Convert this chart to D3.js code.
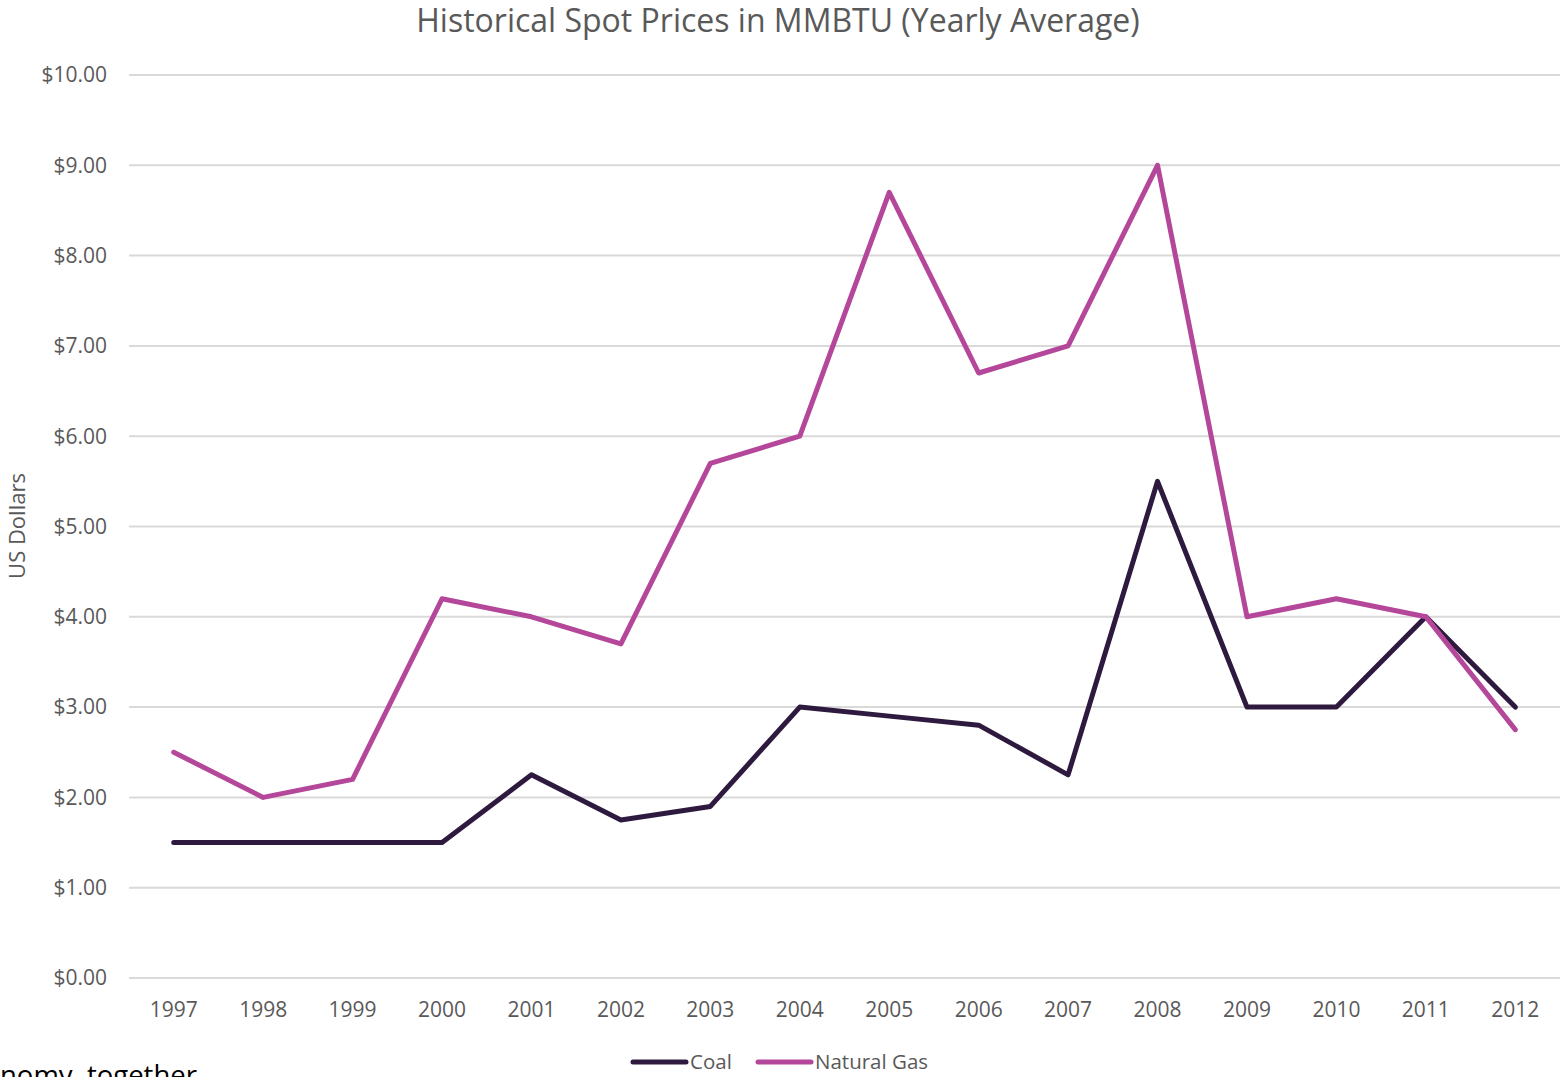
<!DOCTYPE html>
<html>
<head>
<meta charset="utf-8">
<title>Historical Spot Prices</title>
<script src="https://cdn.jsdelivr.net/npm/d3@7"></script>
<style>
    body { margin: 0; background: #fff; overflow: hidden; }
    svg { display: block; font-family: "Open Sans", Lato, sans-serif; }
    .grid line { stroke: #d9d9d9; stroke-width: 2; }
    .lbl { fill: #595959; }
</style>
</head>
<body>
<svg width="1560" height="1077"></svg>
<script>
    var years = ["1997", "1998", "1999", "2000", "2001", "2002", "2003", "2004",
                 "2005", "2006", "2007", "2008", "2009", "2010", "2011", "2012"];
    var coal = [1.5, 1.5, 1.5, 1.5, 2.25, 1.75, 1.9, 3.0, 2.9, 2.8, 2.25, 5.5, 3.0, 3.0, 4.0, 3.0];
    var gas = [2.5, 2.0, 2.2, 4.2, 4.0, 3.7, 5.7, 6.0, 8.7, 6.7, 7.0, 9.0, 4.0, 4.2, 4.0, 2.75];
    var yTicks = [0, 1, 2, 3, 4, 5, 6, 7, 8, 9, 10];
    var seriesNames = ["Coal", "Natural Gas"];
    var colors = ["#2e1a3f", "#b5479b"];

    var svg = d3.select("svg");
    var plotL = 129, plotR = 1560, plotT = 75, plotB = 978;

    var x = d3.scaleBand().domain(years).range([plotL, plotR]);
    var y = d3.scaleLinear().domain([0, 10]).range([plotB, plotT]);

    // title
    svg.append("text")
        .attr("class", "lbl")
        .attr("x", 778).attr("y", 32)
        .attr("text-anchor", "middle")
        .style("font-size", "32px")
        .text("Historical Spot Prices in MMBTU (Yearly Average)");

    // gridlines
    svg.append("g").attr("class", "grid")
        .selectAll("line").data(yTicks).enter().append("line")
        .attr("x1", plotL).attr("x2", plotR)
        .attr("y1", function (d) { return y(d); })
        .attr("y2", function (d) { return y(d); });

    // y axis labels
    svg.append("g").selectAll("text").data(yTicks).enter().append("text")
        .attr("class", "lbl")
        .attr("x", 107)
        .attr("y", function (d) { return y(d); })
        .attr("dy", "0.35em")
        .attr("text-anchor", "end")
        .style("font-size", "21px")
        .text(function (d) { return "$" + d.toFixed(2); });

    // x axis labels
    svg.append("g").selectAll("text").data(years).enter().append("text")
        .attr("class", "lbl")
        .attr("x", function (d) { return x(d) + x.bandwidth() / 2; })
        .attr("y", 1017)
        .attr("text-anchor", "middle")
        .style("font-size", "21px")
        .text(function (d) { return d; });

    // y axis title
    svg.append("text")
        .attr("class", "lbl")
        .attr("transform", "translate(25,526) rotate(-90)")
        .attr("text-anchor", "middle")
        .style("font-size", "22px")
        .text("US Dollars");

    var line = d3.line()
        .x(function (d, i) { return x(years[i]) + x.bandwidth() / 2; })
        .y(function (d) { return y(d); });

    [coal, gas].forEach(function (s, k) {
        svg.append("path")
            .datum(s)
            .attr("d", line)
            .attr("fill", "none")
            .attr("stroke", colors[k])
            .attr("stroke-width", 5)
            .attr("stroke-linejoin", "round")
            .attr("stroke-linecap", "round");
    });

    // legend
    var lx = [633, 758];
    seriesNames.forEach(function (n, k) {
        svg.append("line")
            .attr("x1", lx[k]).attr("x2", lx[k] + 53)
            .attr("y1", 1062).attr("y2", 1062)
            .attr("stroke", colors[k])
            .attr("stroke-width", 5)
            .attr("stroke-linecap", "round");
        svg.append("text")
            .attr("class", "lbl")
            .attr("x", lx[k] + 57).attr("y", 1062)
            .attr("dy", "0.35em")
            .style("font-size", "20.5px")
            .text(n);
    });

    // clipped body text from the page under the chart
    svg.append("text")
        .attr("x", 0).attr("y", 1085)
        .attr("fill", "#000")
        .style("font-size", "27.5px")
        .text("nomy, together");
</script>
</body>
</html>
